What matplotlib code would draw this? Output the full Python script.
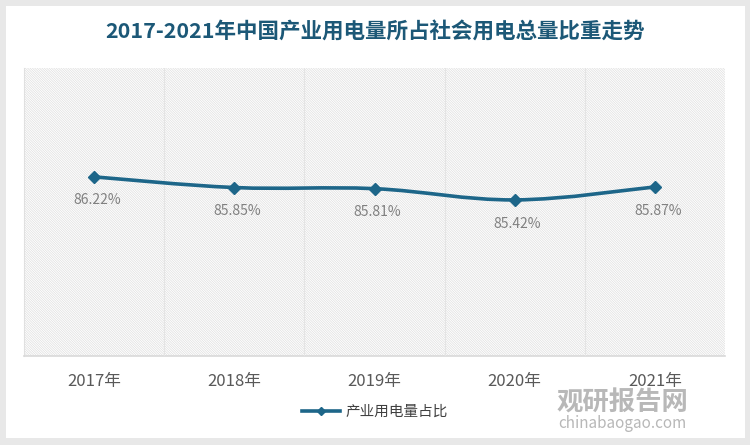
import matplotlib
matplotlib.use('Agg')
import matplotlib.pyplot as plt
from matplotlib.path import Path
from matplotlib.patches import PathPatch, Rectangle
import numpy as np

plt.rcParams['font.family'] = ['Noto Sans CJK SC', 'DejaVu Sans']
plt.rcParams['hatch.linewidth'] = 0.5
plt.rcParams['hatch.color'] = '#dedede'

# 数据
years = ['2017年', '2018年', '2019年', '2020年', '2021年']
share = [86.22, 85.85, 85.81, 85.42, 85.87]
series_name = '产业用电量占比'
title = '2017-2021年中国产业用电量所占社会用电总量比重走势'

line_color = '#1d6689'

fig = plt.figure(figsize=(7.5, 4.45), dpi=100)
fig.patch.set_facecolor('#e8e8e8')
# 白色卡片
fig.patches.append(Rectangle((6 / 750, 7 / 445), 739 / 750, 432 / 445,
                             transform=fig.transFigure, facecolor='white',
                             edgecolor='none', zorder=-5))

ax = fig.add_axes([24 / 750, 89 / 445, 701 / 750, 288 / 445])
ax.set_facecolor('white')
ax.add_patch(Rectangle((0, 0), 1, 1, transform=ax.transAxes, facecolor='white',
                       edgecolor='#dedede', linewidth=0, hatch='\\' * 14, zorder=0))

x = np.arange(len(years))
y = np.array(share)

# 平滑曲线 (Catmull-Rom -> 贝塞尔)
verts = [(x[0], y[0])]
codes = [Path.MOVETO]
t = 0.18
for i in range(len(x) - 1):
    p0 = (x[max(i - 1, 0)], y[max(i - 1, 0)])
    p1 = (x[i], y[i])
    p2 = (x[i + 1], y[i + 1])
    p3 = (x[min(i + 2, len(x) - 1)], y[min(i + 2, len(x) - 1)])
    c1 = (p1[0] + (p2[0] - p0[0]) * t, p1[1] + (p2[1] - p0[1]) * t)
    c2 = (p2[0] - (p3[0] - p1[0]) * t, p2[1] - (p3[1] - p1[1]) * t)
    verts += [c1, c2, p2]
    codes += [Path.CURVE4] * 3
ax.add_patch(PathPatch(Path(verts, codes), facecolor='none', edgecolor=line_color,
                       linewidth=2.6, zorder=3, capstyle='round'))
ax.plot(x, y, linestyle='none', marker='D', markersize=6, color=line_color, zorder=4)
# 图例用的句柄
ax.plot([], [], color=line_color, linewidth=2.6, marker='D', markersize=4, label=series_name)

for xi, yi in zip(x, y):
    ax.annotate(f'{yi:.2f}%', (xi, yi), xytext=(2, -17), textcoords='offset points',
                ha='center', va='center', fontsize=10, color='#808080')

ax.set_xlim(-0.5, 4.5)
ax.set_ylim(80, 90)
ax.set_yticks([])
ax.set_xticks(x)
ax.set_xticklabels(years, fontsize=12, color='#595959')
ax.set_xticks(np.arange(0.5, 4.5, 1), minor=True)
ax.tick_params(axis='x', which='both', length=0, pad=12)
ax.grid(True, which='minor', axis='x', color='#e4e4e4', linewidth=0.8)
ax.set_axisbelow(False)
for s in ['top', 'right']:
    ax.spines[s].set_visible(False)
ax.spines['left'].set_color('#e0e0e0')
ax.spines['bottom'].set_color('#d9d9d9')
ax.spines['bottom'].set_linewidth(1.2)

fig.text(0.5, 1 - 32 / 445, title, ha='center', va='center', fontsize=15.5,
         fontweight='bold', color='#1c5877')

fig.legend(loc='center', bbox_to_anchor=(0.5, 1 - 412 / 445), frameon=False,
           fontsize=10.5, handlelength=2.6, handletextpad=0.4,
           labelcolor='#404040')

# 水印
fig.text(0.83, 1 - 403 / 445, '观研报告网', ha='center', va='center', fontsize=19,
         fontweight='bold', color='#a6a6a6', alpha=0.8)
fig.text(0.83, 1 - 424 / 445, 'chinabaogao.com', ha='center', va='center', fontsize=11,
         color='#a6a6a6', alpha=0.8)

plt.savefig('out.png', dpi=100, facecolor=fig.get_facecolor())
